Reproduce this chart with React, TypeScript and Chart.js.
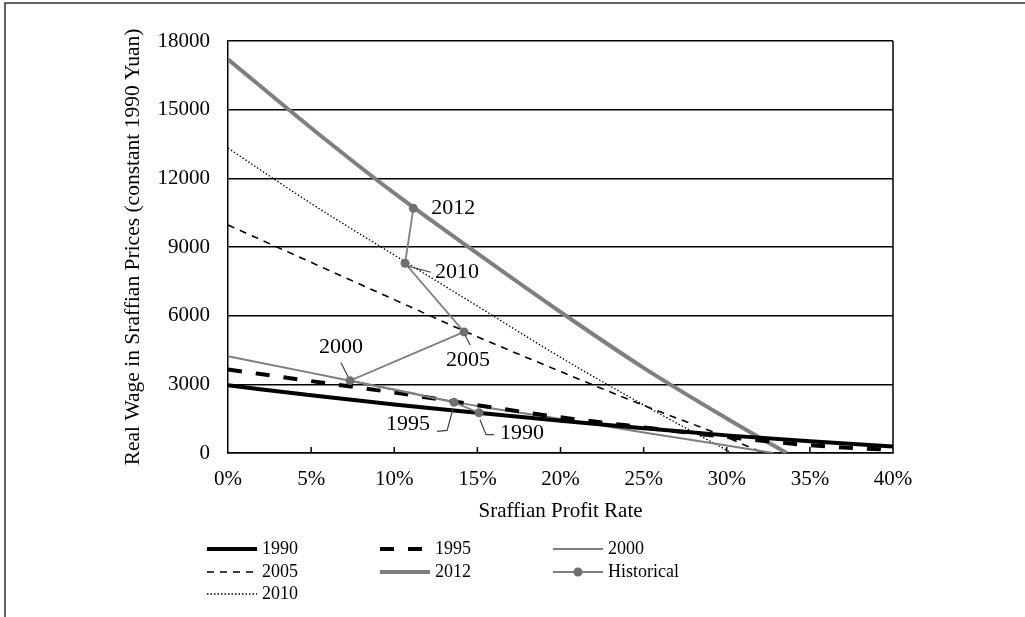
import React, { useEffect, useRef } from 'react';
import { Chart, registerables } from 'chart.js';

Chart.register(...registerables);

// ---------- data ----------
const rates1990 = [0, 5, 10, 15, 20, 25, 30, 35, 40];
const wages1990 = [2960, 2520, 2120, 1760, 1410, 1080, 770, 510, 280];

const rates1995 = [0, 5, 10, 15, 20, 25, 30, 35, 40];
const wages1995 = [3650, 3140, 2640, 2090, 1560, 1120, 700, 340, 130];

const rates2000 = [0, 5, 10, 15, 20, 25, 30, 32.8];
const wages2000 = [4230, 3500, 2770, 2050, 1490, 900, 330, 0];

const rates2005 = [0, 5, 10, 15, 20, 25, 30, 32.2];
const wages2005 = [9960, 8330, 6700, 5080, 3560, 2080, 680, 0];

const rates2010 = [0, 5, 10, 15, 20, 25, 30, 30.3];
const wages2010 = [13320, 10900, 8650, 6420, 4180, 2100, 120, 0];

const rates2012 = [0, 5, 10, 15, 20, 25, 30, 33.6];
const wages2012 = [17200, 14200, 11350, 8720, 6160, 3720, 1510, 0];

const historicalRates = [15.1, 13.6, 7.34, 14.2, 10.65, 11.15];
const historicalWages = [1760, 2214, 3160, 5290, 8290, 10690];
const historicalLabels = ['1990', '1995', '2000', '2005', '2010', '2012'];

const seriesNames = ['1990', '1995', '2000', '2005', '2012', 'Historical', '2010'];

const xTitle = 'Sraffian Profit Rate';
const yTitle = 'Real Wage in Sraffian Prices (constant 1990 Yuan)';

// ---------- styles / placement ----------
const FONT = "'Liberation Serif', 'Times New Roman', serif";
const GRAY = '#7f7f7f';

// offsets of the annotation texts and leader lines, relative to each historical point (pixels)
const annotationStyle: any[] = [
  { dx: 21, dy: 21, align: 'left', leader: [[1, 7], [7, 22], [15, 22]] },
  { dx: -24, dy: 22, align: 'right', leader: [[-17, 29], [-7, 28], [-1, 6]] },
  { dx: -9, dy: -33, align: 'center', leader: [[-9, -18], [-2, -4]] },
  { dx: 4, dy: 28, align: 'center', leader: [[1, 3], [6, 13]] },
  { dx: 30, dy: 9, align: 'left', leader: [[3, 3], [26, 9]] },
  { dx: 18, dy: 0, align: 'left', leader: null },
];

const legendCols = [207, 380, 553];
const legendRows = [549, 572, 594];

function pts(xs: number[], ys: number[]) {
  return xs.map((x, i) => ({ x, y: ys[i] }));
}

const framePlugin = {
  id: 'frame',
  beforeDraw(chart: any) {
    const ctx = chart.ctx;
    ctx.save();
    ctx.fillStyle = '#ffffff';
    ctx.fillRect(0, 0, chart.width, chart.height);
    ctx.strokeStyle = '#303030';
    ctx.lineWidth = 1.5;
    ctx.beginPath();
    ctx.moveTo(5, chart.height);
    ctx.lineTo(5, 3);
    ctx.lineTo(chart.width, 3);
    ctx.stroke();
    ctx.restore();
  },
  beforeDatasetsDraw(chart: any) {
    const { ctx, chartArea } = chart;
    const xs = chart.scales.x;
    ctx.save();
    ctx.strokeStyle = '#000';
    ctx.lineWidth = 1.5;
    // right border
    ctx.beginPath();
    ctx.moveTo(chartArea.right, chartArea.top);
    ctx.lineTo(chartArea.right, chartArea.bottom);
    ctx.stroke();
    // inward tick marks on x axis
    xs.ticks.forEach((t: any) => {
      const px = xs.getPixelForValue(t.value);
      if (px <= chartArea.left + 1 || px >= chartArea.right - 1) return;
      ctx.beginPath();
      ctx.moveTo(px, chartArea.bottom);
      ctx.lineTo(px, chartArea.bottom - 6);
      ctx.stroke();
    });
    ctx.restore();
  },
  afterDatasetsDraw(chart: any) {
    const ctx = chart.ctx;
    const idx = chart.data.datasets.findIndex((d: any) => d.label === 'Historical');
    const meta = chart.getDatasetMeta(idx);
    ctx.save();
    meta.data.forEach((el: any, i: number) => {
      const st = annotationStyle[i];
      const px = el.x;
      const py = el.y;
      if (st.leader) {
        ctx.strokeStyle = '#404040';
        ctx.lineWidth = 1.2;
        ctx.beginPath();
        st.leader.forEach((p: number[], j: number) => {
          if (j === 0) ctx.moveTo(px + p[0], py + p[1]);
          else ctx.lineTo(px + p[0], py + p[1]);
        });
        ctx.stroke();
      }
      ctx.fillStyle = '#000';
      ctx.font = `22px ${FONT}`;
      ctx.textAlign = st.align;
      ctx.textBaseline = 'middle';
      ctx.fillText(historicalLabels[i], px + st.dx, py + st.dy);
    });
    ctx.restore();
  },
  afterDraw(chart: any) {
    const ctx = chart.ctx;
    ctx.save();
    chart.data.datasets.forEach((ds: any, i: number) => {
      const x0 = legendCols[i % 3];
      const y0 = legendRows[Math.floor(i / 3)];
      const w = 50;
      ctx.strokeStyle = ds.borderColor;
      ctx.lineWidth = ds.borderWidth;
      ctx.setLineDash(ds.borderDash || []);
      ctx.lineCap = 'butt';
      ctx.beginPath();
      ctx.moveTo(x0, y0);
      ctx.lineTo(x0 + w, y0);
      ctx.stroke();
      ctx.setLineDash([]);
      if (ds.pointRadius > 0) {
        ctx.fillStyle = ds.pointBackgroundColor;
        ctx.beginPath();
        ctx.arc(x0 + w / 2, y0, ds.pointRadius, 0, Math.PI * 2);
        ctx.fill();
      }
      ctx.fillStyle = '#000';
      ctx.font = `18px ${FONT}`;
      ctx.textAlign = 'left';
      ctx.textBaseline = 'middle';
      ctx.fillText(ds.label, x0 + w + 5, y0);
    });
    ctx.restore();
  },
};

export default function App() {
  const ref = useRef<HTMLCanvasElement | null>(null);

  useEffect(() => {
    document.body.style.margin = '0';
    if (!ref.current) return;
    const line = (label: string, data: any[], color: string, width: number, dash: number[], order = 0) => ({
      label,
      data,
      borderColor: color,
      backgroundColor: color,
      borderWidth: width,
      borderDash: dash,
      pointRadius: 0,
      fill: false,
      cubicInterpolationMode: 'monotone',
      order,
    });
    const datasets: any[] = [
      line(seriesNames[0], pts(rates1990, wages1990), '#000000', 4, []),
      line(seriesNames[1], pts(rates1995, wages1995), '#000000', 4, [14, 14]),
      line(seriesNames[2], pts(rates2000, wages2000), GRAY, 2, []),
      line(seriesNames[3], pts(rates2005, wages2005), '#000000', 1.6, [7, 6]),
      line(seriesNames[4], pts(rates2012, wages2012), GRAY, 4, []),
      {
        label: seriesNames[5],
        data: pts(historicalRates, historicalWages),
        borderColor: GRAY,
        backgroundColor: '#6f6f6f',
        borderWidth: 1.8,
        borderDash: [],
        pointRadius: 4.5,
        pointBackgroundColor: '#6f6f6f',
        pointBorderColor: '#6f6f6f',
        pointBorderWidth: 0,
        fill: false,
        tension: 0,
        order: -1,
      },
      line(seriesNames[6], pts(rates2010, wages2010), '#000000', 1.3, [1.5, 2]),
    ];

    const chart = new Chart(ref.current, {
      type: 'line',
      data: { datasets },
      plugins: [framePlugin],
      options: {
        responsive: false,
        animation: false,
        events: [],
        layout: { padding: { left: 110, right: 132, top: 41, bottom: 93 } },
        plugins: { legend: { display: false }, tooltip: { enabled: false } },
        scales: {
          x: {
            type: 'linear',
            min: 0,
            max: 40,
            afterFit: (s: any) => { s.height = 71; },
            ticks: {
              stepSize: 5,
              callback: (v: any) => `${v}%`,
              color: '#000',
              font: { family: FONT, size: 21 },
              padding: 14,
              maxRotation: 0,
            },
            grid: { display: false, drawTicks: false },
            border: { display: true, color: '#000', width: 1.5 },
            title: {
              display: true,
              text: xTitle,
              color: '#000',
              font: { family: FONT, size: 21 },
              padding: { top: 0, bottom: 0 },
            },
          },
          y: {
            type: 'linear',
            min: 0,
            max: 18000,
            afterFit: (s: any) => { s.width = 118; },
            ticks: {
              stepSize: 3000,
              callback: (v: any) => String(v),
              color: '#000',
              font: { family: FONT, size: 21 },
              padding: 18,
            },
            grid: { color: '#000', lineWidth: 1.5, drawTicks: false },
            border: { display: true, color: '#000', width: 1.5 },
            title: {
              display: true,
              text: yTitle,
              color: '#000',
              font: { family: FONT, size: 21.5 },
              padding: { top: 10, bottom: 0 },
            },
          },
        },
      } as any,
    });
    return () => chart.destroy();
  }, []);

  return (
    <div style={{ width: 1025, height: 617, position: 'relative' }}>
      <canvas ref={ref} width={1025} height={617} style={{ display: 'block' }} />
    </div>
  );
}
